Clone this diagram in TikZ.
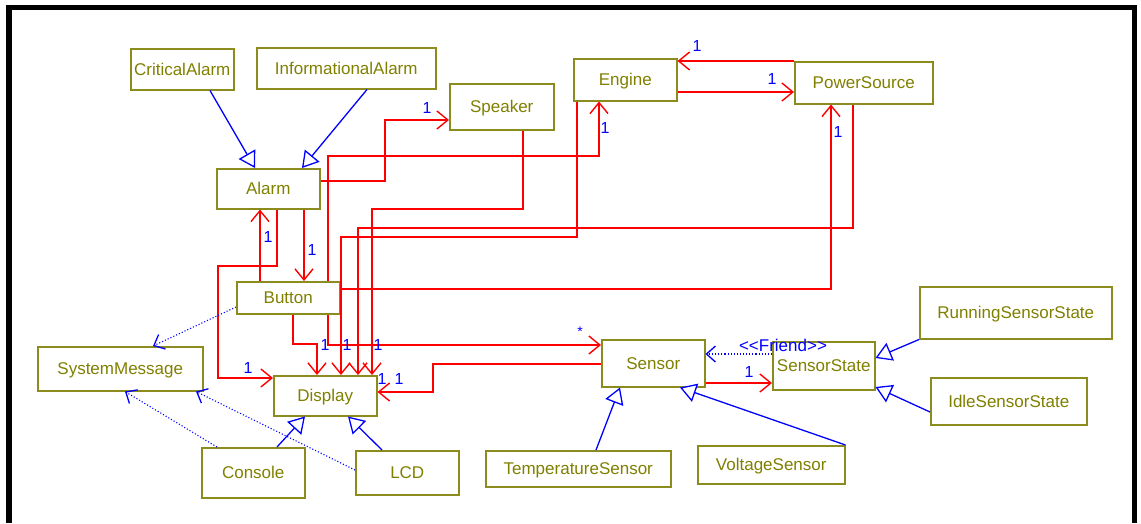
\documentclass[tikz,border=0pt]{standalone}
\usepackage{fontspec}
\setmainfont{Liberation Sans}
\usetikzlibrary{arrows.meta}
\definecolor{olivetxt}{RGB}{128,128,0}
\definecolor{olivebox}{RGB}{140,140,30}
\begin{document}
\begin{tikzpicture}[x=1pt,y=-1pt,
  cls/.style={draw=olivebox, line width=1.5pt, text=olivetxt, font=\fontsize{17}{20}\selectfont, inner sep=0pt, anchor=north west, text depth=0pt},
  assoc/.style={draw=red, line width=1.4pt, -{Straight Barb[length=11pt,width=18pt,line width=1.4pt]}},
  gen/.style={draw=blue, line width=1.3pt, -{Triangle[open,length=16pt,width=19pt,fill=white,line width=1.3pt]}},
  dep/.style={draw=blue, line width=1.1pt, dotted, -{Straight Barb[length=9pt,width=16pt,line width=1.3pt]}},
  mult/.style={text=blue, font=\fontsize{16}{16}\selectfont, inner sep=0pt}]
\useasboundingbox (0,0) rectangle (1141,523);
\fill[white] (0,0) rectangle (1141,523);
% frame
\fill[black] (6,5) rectangle (12,523);
\fill[black] (6,5) rectangle (1137,10);
\fill[black] (1132,5) rectangle (1137,523);
% classes
\node[cls, minimum width=103pt, minimum height=41pt] (crit) at (130,48) {CriticalAlarm};
\node[cls, minimum width=179pt, minimum height=41pt] (info) at (256,47) {InformationalAlarm};
\node[cls, minimum width=103pt, minimum height=40pt] (alarm) at (216,168) {Alarm};
\node[cls, minimum width=104pt, minimum height=46pt] (speaker) at (449,83) {Speaker};
\node[cls, minimum width=103pt, minimum height=42pt] (engine) at (573,58) {Engine};
\node[cls, minimum width=138pt, minimum height=42pt] (power) at (794,61) {PowerSource};
\node[cls, minimum width=103pt, minimum height=32pt] (button) at (236,281) {Button};
\node[cls, minimum width=103pt, minimum height=40pt] (display) at (273,375) {Display};
\node[cls, minimum width=165pt, minimum height=44pt] (sysmsg) at (37,346) {SystemMessage};
\node[cls, minimum width=103pt, minimum height=50pt] (console) at (201,447) {Console};
\node[cls, minimum width=103pt, minimum height=44pt] (lcd) at (355,450) {LCD};
\node[cls, minimum width=103pt, minimum height=47pt] (sensor) at (601,339) {Sensor};
\node[cls, minimum width=102pt, minimum height=48pt] (sstate) at (772,341) {SensorState};
\node[cls, minimum width=192pt, minimum height=52pt] (running) at (919,286) {RunningSensorState};
\node[cls, minimum width=156pt, minimum height=47pt] (idle) at (930,377) {IdleSensorState};
\node[cls, minimum width=185pt, minimum height=36pt] (temp) at (485,450) {TemperatureSensor};
\node[cls, minimum width=147pt, minimum height=38pt] (volt) at (697,445) {VoltageSensor};
% associations
\draw[assoc] (alarm.east |- 0,181) -- (385,181) -- (385,120) -- (speaker.west |- 0,120);
\draw[assoc] (alarm.south -| 304,0) -- (button.north -| 304,0);
\draw[assoc] (button.north -| 260,0) -- (alarm.south -| 260,0);
\draw[assoc] (alarm.south -| 277,0) -- (277,266) -- (218,266) -- (218,378) -- (display.west |- 0,378);
\draw[assoc] (button.north -| 328,0) -- (328,156) -- (599,156) -- (engine.south -| 599,0);
\draw[assoc] (button.south -| 328,0) -- (328,345) -- (sensor.west |- 0,345);
\draw[assoc] (button.south -| 293,0) -- (293,344) -- (317,344) -- (display.north -| 317,0);
\draw[assoc] (button.east |- 0,289) -- (831,289) -- (power.south -| 831,0);
\draw[assoc] (speaker.south -| 523,0) -- (523,209) -- (372,209) -- (display.north -| 372,0);
\draw[assoc] (engine.south -| 577,0) -- (577,237) -- (341,237) -- (display.north -| 341,0);
\draw[assoc] (power.south -| 853,0) -- (853,228) -- (358,228) -- (display.north -| 358,0);
\draw[assoc] (sensor.west |- 0,364) -- (433,364) -- (433,392) -- (display.east |- 0,392);
\draw[assoc] (engine.east |- 0,92) -- (power.west |- 0,92);
\draw[assoc] (power.north west) -- (engine.east |- power.north west);
\draw[assoc] (sensor.east |- 0,383) -- (sstate.west |- 0,383);
% dependencies
\draw[dep] (button.west |- 0,307) -- (sysmsg.north -| 153,0);
\draw[dep] (console.north -| 217,0) -- (sysmsg.south -| 125,0);
\draw[dep] (lcd.west |- 0,470) -- (sysmsg.south -| 196,0);
\draw[dep] (sstate.west |- 0,354) -- (sensor.east |- 0,354);
% generalizations
\draw[gen] (crit.south -| 210,0) -- (alarm.north -| 255,0);
\draw[gen] (info.south -| 367,0) -- (alarm.north -| 302,0);
\draw[gen] (console.north -| 277,0) -- (display.south -| 305,0);
\draw[gen] (lcd.north -| 382,0) -- (display.south -| 348,0);
\draw[gen] (temp.north -| 596,0) -- (sensor.south -| 620,0);
\draw[gen] (volt.north east) -- (sensor.south -| 680,0);
\draw[gen] (running.south west) -- (sstate.east |- 0,358);
\draw[gen] (idle.west |- 0,412) -- (sstate.east |- 0,387);
% labels
\node[mult] (m1) at (427,108) {1};
\node[mult] (m2) at (312,250) {1};
\node[mult] (m3) at (268,237) {1};
\node[mult] (m4) at (248,368) {1};
\node[mult] (m5) at (605,128) {1};
\node[mult, font=\fontsize{14}{14}\selectfont] (m6) at (580,332) {*};
\node[mult] (m7) at (325,345) {1};
\node[mult] (m8) at (838,132) {1};
\node[mult] (m9) at (347,345) {1};
\node[mult] (m10) at (378,345) {1};
\node[mult] (m11) at (382,379) {1};
\node[mult] (m12) at (399,379) {1};
\node[mult] (m13) at (772,79) {1};
\node[mult] (m14) at (697,46) {1};
\node[mult] (m15) at (749,372) {1};
\node[mult, font=\fontsize{17}{17}\selectfont] (friend) at (783,345) {<{}<Friend>{}>};
\end{tikzpicture}
\end{document}
